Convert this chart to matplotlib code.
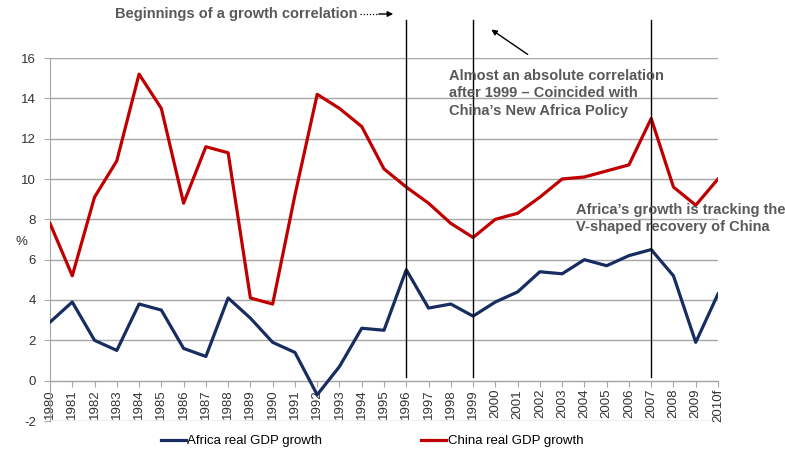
import matplotlib
matplotlib.use("Agg")
import matplotlib.pyplot as plt

years = list(range(1980, 2011))
year_labels = [str(y) for y in years[:-1]] + ["2010f"]
africa_growth = [2.9, 3.9, 2.0, 1.5, 3.8, 3.5, 1.6, 1.2, 4.1, 3.1, 1.9, 1.4, -0.7, 0.7, 2.6, 2.5,
                 5.5, 3.6, 3.8, 3.2, 3.9, 4.4, 5.4, 5.3, 6.0, 5.7, 6.2, 6.5, 5.2, 1.9, 4.3]
china_growth = [7.8, 5.2, 9.1, 10.9, 15.2, 13.5, 8.8, 11.6, 11.3, 4.1, 3.8, 9.2, 14.2, 13.5, 12.6, 10.5,
                9.6, 8.8, 7.8, 7.1, 8.0, 8.3, 9.1, 10.0, 10.1, 10.4, 10.7, 13.0, 9.6, 8.7, 10.0]
marker_years = [1996, 1999, 2007]
y_ticks = list(range(-2, 17, 2))

plt.rcParams["font.family"] = ["Liberation Sans", "DejaVu Sans"]

W, H = 785, 450
fig = plt.figure(figsize=(W / 100, H / 100), dpi=100)
ax = fig.add_axes([50 / W, 1 - 421 / H, 668 / W, 363 / H])

grid_col = "#a6a6a6"
note_col = "#595959"

for side in ("top", "right"):
    ax.spines[side].set_visible(False)
ax.spines["left"].set_color(grid_col)
ax.spines["bottom"].set_position(("data", 0))
ax.spines["bottom"].set_color(grid_col)

ax.plot(years, africa_growth, color="#172c5f", lw=2.3, label="Africa real GDP growth", zorder=3)
ax.plot(years, china_growth, color="#c00000", lw=2.3, label="China real GDP growth", zorder=3)

ax.set_xlim(1980, 2010)
ax.set_ylim(-2, 16)
ax.set_yticks(y_ticks)
ax.set_yticklabels([str(v) for v in y_ticks], fontsize=9.5, color="#333333")
ax.set_xticks(years)
ax.set_xticklabels(year_labels, fontsize=9.5, color="#333333")
ax.tick_params(axis="x", length=4, color=grid_col, pad=2, labelrotation=90)
ax.tick_params(axis="y", length=4, color=grid_col, pad=6)
ax.yaxis.grid(True, color=grid_col, lw=1)
ax.set_axisbelow(True)

# period markers
for yr in marker_years:
    ax.plot([yr, yr], [0.2, 17.9], color="black", lw=1, clip_on=False, zorder=4)

fig.text(15 / W, 1 - 242 / H, "%", fontsize=9.5, color="#333333", ha="left", va="center")

fig.text(115 / W, 1 - 14 / H, "Beginnings of a growth correlation", fontsize=10.5,
         fontweight="bold", color=note_col, ha="left", va="center")
fig.add_artist(plt.Line2D([360 / W, 378 / W], [1 - 14 / H, 1 - 14 / H], color="black",
                          lw=0.9, ls=(0, (1, 1.5))))
ax.annotate("", xy=(396 / W, 1 - 14 / H), xytext=(376 / W, 1 - 14 / H),
            xycoords="figure fraction", textcoords="figure fraction",
            arrowprops=dict(arrowstyle="-|>", color="black", lw=1, mutation_scale=8))

ax.annotate("", xy=(489 / W, 1 - 28 / H), xytext=(530 / W, 1 - 56 / H),
            xycoords="figure fraction", textcoords="figure fraction",
            arrowprops=dict(arrowstyle="-|>", color="black", lw=1, mutation_scale=8))

fig.text(449 / W, 1 - 69 / H,
         "Almost an absolute correlation\nafter 1999 \u2013 Coincided with\nChina\u2019s New Africa Policy",
         fontsize=10.5, fontweight="bold", color=note_col, ha="left", va="top", linespacing=1.3)
fig.text(576 / W, 1 - 203 / H,
         "Africa\u2019s growth is tracking the\nV-shaped recovery of China",
         fontsize=10.5, fontweight="bold", color=note_col, ha="left", va="top", linespacing=1.3)

fig.legend(loc="center", bbox_to_anchor=(372 / W, 1 - 441 / H), ncol=2, frameon=False,
           fontsize=9.5, handlelength=1.9, handletextpad=0.1, columnspacing=7.5)

fig.savefig("out.png", dpi=100)
